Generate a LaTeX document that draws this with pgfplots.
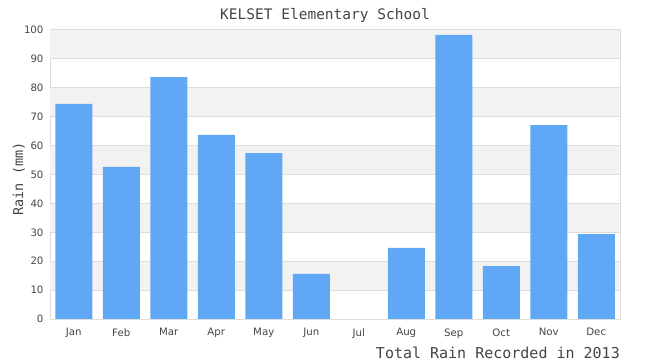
\documentclass[border=0pt]{standalone}
\usepackage{pgfplots}
\pgfplotsset{compat=1.18}
\usepackage{fontspec}
\setmainfont{DejaVu Sans}
\newfontfamily\monofont{DejaVu Sans Mono}
\definecolor{barblue}{HTML}{60A8F5}
\definecolor{band}{HTML}{F2F2F2}
\definecolor{gridc}{HTML}{DDDDDD}
\definecolor{txt}{HTML}{444444}
\begin{document}
\begin{tikzpicture}
\path[use as bounding box] (0bp,0bp) rectangle (650bp,360bp);
\begin{axis}[
  at={(50bp,41bp)}, anchor=south west,
  scale only axis, width=570bp, height=289bp,
  xmin=-0.5, xmax=11.5, ymin=0, ymax=100,
  ytick={0,10,...,100},
  xtick={0,...,11},
  xticklabels={Jan,Feb,Mar,Apr,May,Jun,Jul,Aug,Sep,Oct,Nov,Dec},
  major tick length=0pt,
  axis line style={gridc, line width=1bp},
  ticklabel style={font=\fontsize{10.2bp}{11bp}\selectfont, text=txt},
  xticklabel style={yshift=-6bp},
  yticklabel style={xshift=-3bp},
  /pgf/number format/assume math mode=true,
  ybar, bar width=37bp,
]
\fill[band] (axis cs:-0.5,10) rectangle (axis cs:11.5,20);
\fill[band] (axis cs:-0.5,30) rectangle (axis cs:11.5,40);
\fill[band] (axis cs:-0.5,50) rectangle (axis cs:11.5,60);
\fill[band] (axis cs:-0.5,70) rectangle (axis cs:11.5,80);
\fill[band] (axis cs:-0.5,90) rectangle (axis cs:11.5,100);
\draw[gridc, line width=0.8bp] (axis cs:-0.5,10) -- (axis cs:11.5,10);
\draw[gridc, line width=0.8bp] (axis cs:-0.5,20) -- (axis cs:11.5,20);
\draw[gridc, line width=0.8bp] (axis cs:-0.5,30) -- (axis cs:11.5,30);
\draw[gridc, line width=0.8bp] (axis cs:-0.5,40) -- (axis cs:11.5,40);
\draw[gridc, line width=0.8bp] (axis cs:-0.5,50) -- (axis cs:11.5,50);
\draw[gridc, line width=0.8bp] (axis cs:-0.5,60) -- (axis cs:11.5,60);
\draw[gridc, line width=0.8bp] (axis cs:-0.5,70) -- (axis cs:11.5,70);
\draw[gridc, line width=0.8bp] (axis cs:-0.5,80) -- (axis cs:11.5,80);
\draw[gridc, line width=0.8bp] (axis cs:-0.5,90) -- (axis cs:11.5,90);
\addplot[fill=barblue, draw=none] coordinates {
(0,74.4) (1,52.6) (2,83.7) (3,63.7) (4,57.4) (5,15.6)
(6,0) (7,24.6) (8,98.3) (9,18.3) (10,67.1) (11,29.4)};
\end{axis}
\node[font=\monofont\fontsize{14.5bp}{16bp}\selectfont, text=txt] at (325bp,345bp) {KELSET Elementary School};
\node[font=\monofont\fontsize{13.5bp}{15bp}\selectfont, text=txt, rotate=90] at (19bp,181bp) {Rain (mm)};
\node[font=\monofont\fontsize{15bp}{17bp}\selectfont, text=txt, anchor=base east, inner sep=0pt] at (620bp,1.5bp) {Total Rain Recorded in 2013};
\end{tikzpicture}
\end{document}
